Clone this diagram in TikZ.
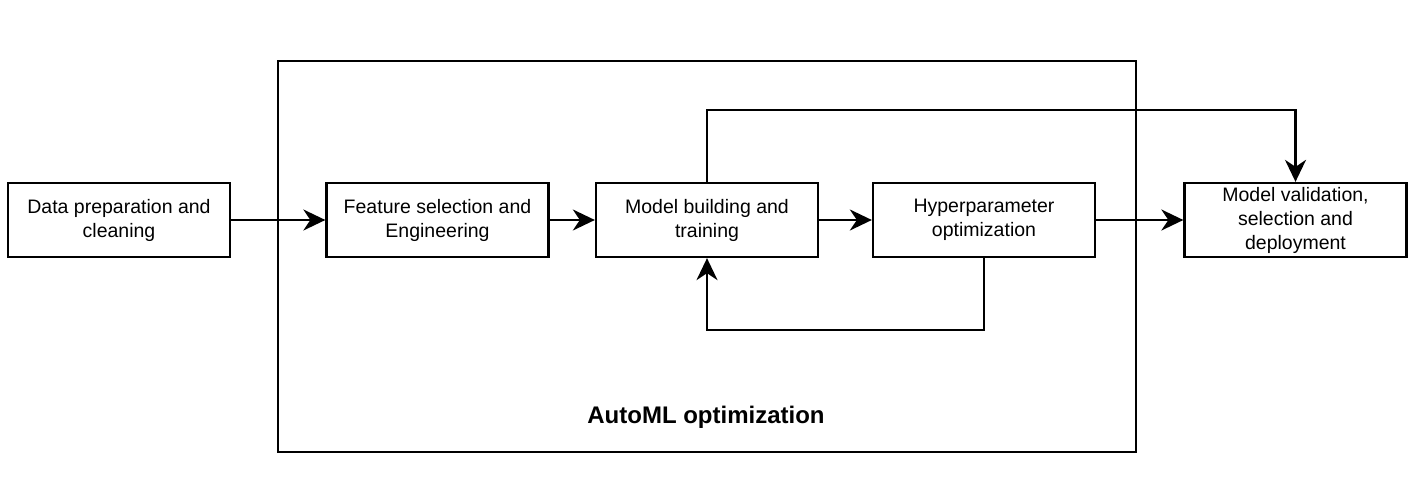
\documentclass[tikz,border=0pt]{standalone}
\usepackage{fontspec}
\setmainfont{Liberation Sans}
\usetikzlibrary{arrows.meta}
\begin{document}
\begin{tikzpicture}[x=1pt,y=-1pt,
  stepbox/.style={draw,line width=2.3pt,minimum width=222pt,minimum height=74pt,inner sep=0pt,align=center,font=\fontsize{19.5}{24}\selectfont},
  conn/.style={line width=2.3pt},
  arr/.style={conn,-{Stealth[length=22pt,width=21pt,inset=7pt]}}]
\useasboundingbox (0,0) rectangle (1416,484);
\node[draw,line width=2.3pt,minimum width=858pt,minimum height=391pt,inner sep=0pt] (auto) at (707,256.5) {};
\node[font=\bfseries\fontsize{24}{28}\selectfont] (autolbl) at (706,417) {AutoML optimization};
\node[stepbox] (data) at (119,220) {Data preparation and\\cleaning};
\node[stepbox] (feat) at (437.5,220) {Feature selection and\\Engineering};
\node[stepbox] (model) at (707,220) {Model building and\\training};
\node[stepbox] (hyper) at (984,220) {Hyperparameter\\optimization};
\node[stepbox] (valid) at (1295.5,220) {Model validation,\\selection and\\deployment};
\coordinate (t1) at (707,110);
\coordinate (t2) at (1295.5,110);
\coordinate (b1) at (984,330);
\coordinate (b2) at (707,330);
\draw[arr] (data) -- (feat);
\draw[arr] (feat) -- (model);
\draw[arr] (model) -- (hyper);
\draw[arr] (hyper) -- (valid);
\draw[arr] (model.north) -- (t1) -- (t2) -- (valid.north);
\draw[arr] (hyper.south) -- (b1) -- (b2) -- (model.south);
\end{tikzpicture}
\end{document}
